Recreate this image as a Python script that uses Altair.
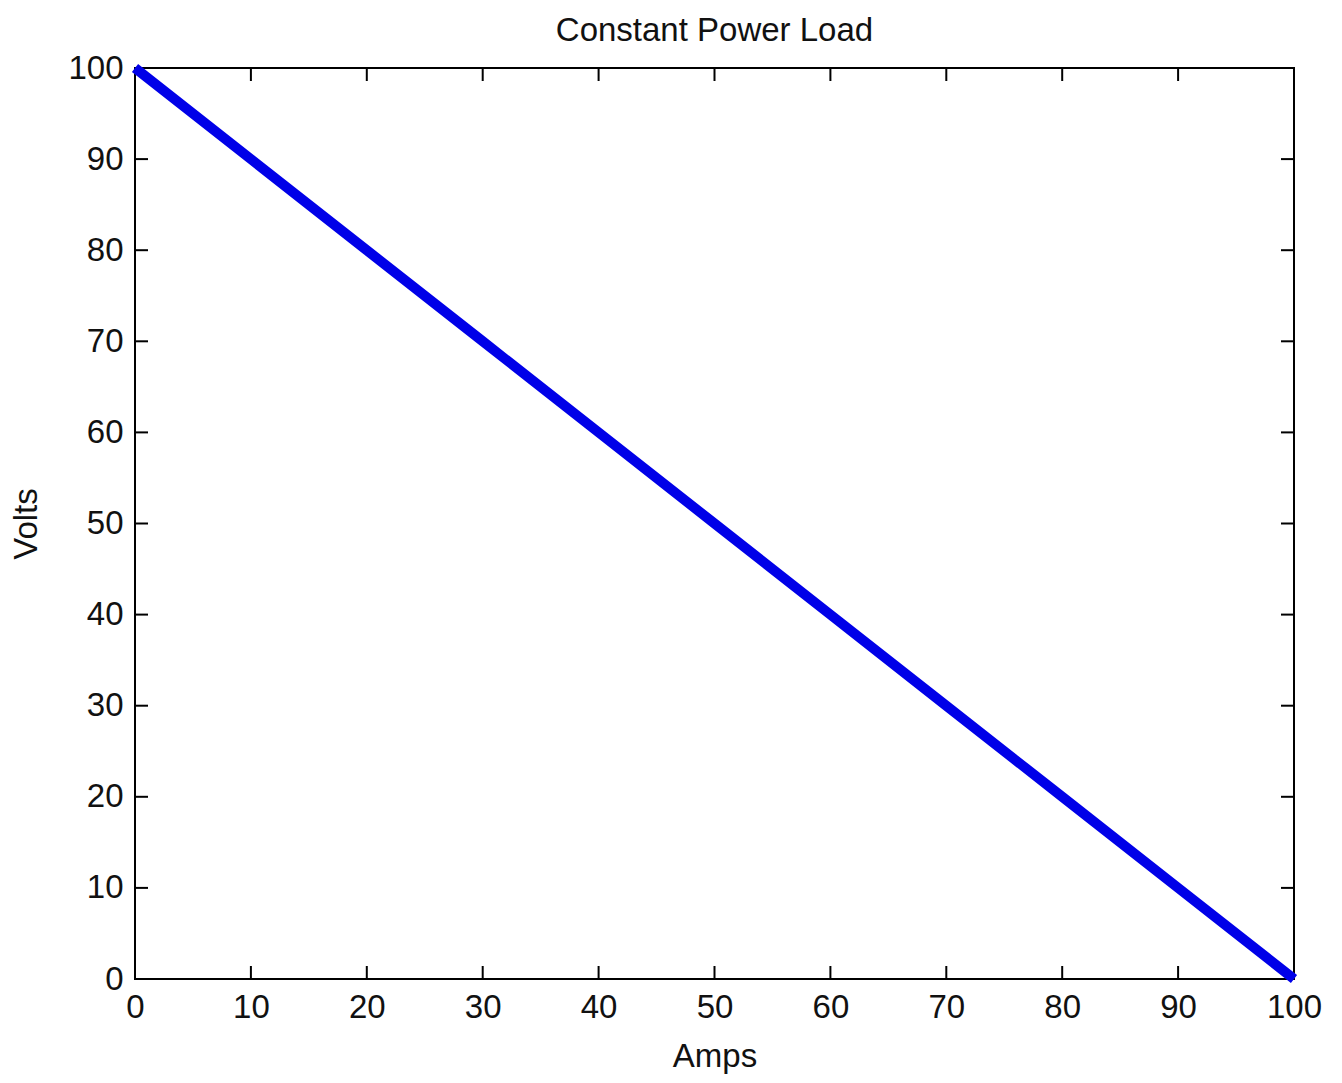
import altair as alt
import pandas as pd

amps = [0, 10, 20, 30, 40, 50, 60, 70, 80, 90, 100]
volts = [100, 90, 80, 70, 60, 50, 40, 30, 20, 10, 0]
tick_values = [0, 10, 20, 30, 40, 50, 60, 70, 80, 90, 100]

W, H = 1159, 911
TL = 13
FONT = "Liberation Sans"
FS = 33

df = pd.DataFrame({"Amps": amps, "Volts": volts})
ticks = pd.DataFrame({"v": tick_values})

xs = alt.Scale(domain=[0, 100], nice=False)
ys = alt.Scale(domain=[0, 100], nice=False)

line = alt.Chart(df).mark_line(color="#0000e8", strokeWidth=10, strokeCap="butt").encode(
    x=alt.X("Amps:Q", scale=xs, axis=alt.Axis(values=tick_values, ticks=False, domain=False, grid=False,
                                                labelFont=FONT, labelFontSize=FS, labelColor="#111",
                                                labelPadding=12, title="Amps", titleFont=FONT,
                                                titleFontSize=FS, titleFontWeight="normal",
                                                titleColor="#111", titlePadding=16, labelFlush=False)),
    y=alt.Y("Volts:Q", scale=ys, axis=alt.Axis(values=tick_values, ticks=False, domain=False, grid=False,
                                                labelFont=FONT, labelFontSize=FS, labelColor="#111",
                                                labelPadding=12, title="Volts", titleFont=FONT,
                                                titleFontSize=FS, titleFontWeight="normal",
                                                titleColor="#111", titlePadding=24, labelFlush=False)),
)

tick_style = dict(color="black", strokeWidth=2)
bottom = alt.Chart(ticks).mark_rule(**tick_style).encode(
    x=alt.X("v:Q", scale=xs), y=alt.value(H), y2=alt.value(H - TL))
top = alt.Chart(ticks).mark_rule(**tick_style).encode(
    x=alt.X("v:Q", scale=xs), y=alt.value(0), y2=alt.value(TL))
left = alt.Chart(ticks).mark_rule(**tick_style).encode(
    y=alt.Y("v:Q", scale=ys), x=alt.value(0), x2=alt.value(TL))
right = alt.Chart(ticks).mark_rule(**tick_style).encode(
    y=alt.Y("v:Q", scale=ys), x=alt.value(W), x2=alt.value(W - TL))

chart = alt.layer(bottom, top, left, right, line).properties(
    width=W, height=H,
    autosize=alt.AutoSizeParams(type="none"),
    padding={"left": 135, "top": 68, "right": 48, "bottom": 104},
    title=alt.TitleParams("Constant Power Load", font=FONT, fontSize=FS, fontWeight="normal",
                          color="#111", offset=0, anchor="middle"),
    background="white",
).configure_view(stroke="black", strokeWidth=2)

chart.save("out.html", embed_options={"renderer": "svg", "actions": False})
